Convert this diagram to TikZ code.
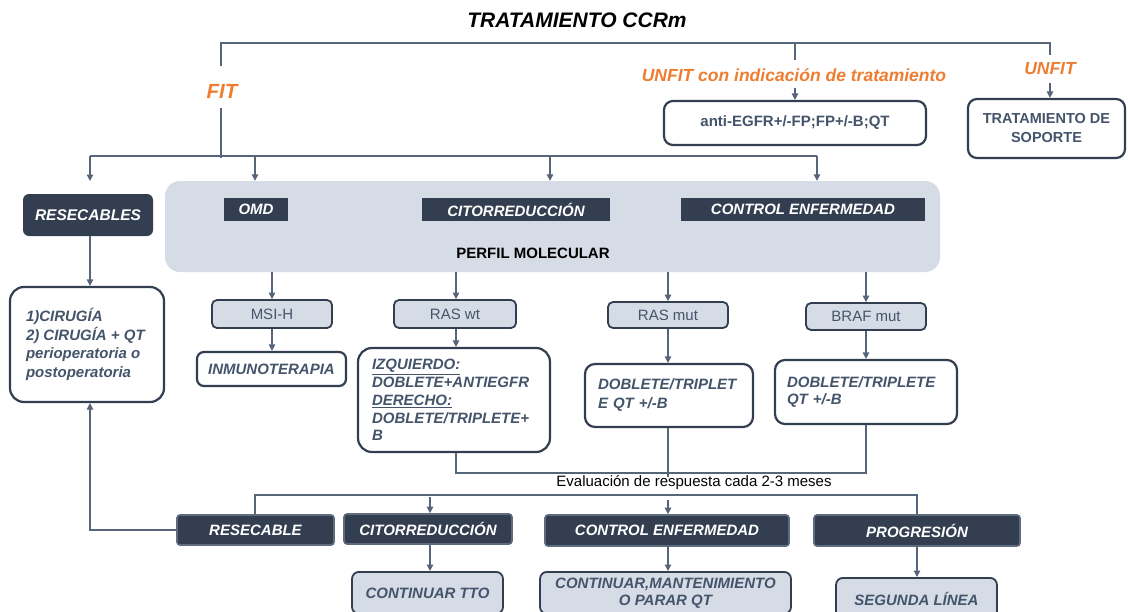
\documentclass[tikz,border=0pt]{standalone}
\usepackage{fontspec}
\setmainfont{Liberation Sans}
\usetikzlibrary{arrows.meta}
\definecolor{darkbox}{HTML}{333F50}
\definecolor{lightfill}{HTML}{D6DCE5}
\definecolor{slate}{HTML}{44546A}
\definecolor{conn}{HTML}{56657A}
\definecolor{orangeT}{HTML}{ED7D31}
\definecolor{dborder}{HTML}{5F6C80}
\tikzset{
  conline/.style={draw=conn, line width=1.2pt},
  arr/.style={conline, -{Triangle[width=6.5pt,length=6.5pt]}},
  whitebox/.style={draw=darkbox, line width=2.2pt, fill=white, rounded corners=9pt, text=slate, font=\fontsize{15}{18}\selectfont\bfseries\itshape, inner sep=0pt},
  darkflat/.style={fill=darkbox, text=white, font=\fontsize{15}{18}\selectfont\bfseries\itshape, inner sep=0pt},
  darkround/.style={fill=darkbox, draw=dborder, line width=1.6pt, rounded corners=3pt, text=white, font=\fontsize{15}{18}\selectfont\bfseries\itshape, inner sep=0pt},
  subbox/.style={draw=darkbox, line width=1.8pt, fill=lightfill, rounded corners=5pt, text=slate, font=\fontsize{15}{18}\selectfont, inner sep=0pt},
  lightbox/.style={draw=darkbox, line width=1.8pt, fill=lightfill, rounded corners=7pt, text=slate, font=\fontsize{15}{17}\selectfont\bfseries\itshape, inner sep=0pt, align=center},
  orangelabel/.style={text=orangeT, inner sep=1pt},
}
\begin{document}
\begin{tikzpicture}[x=1pt,y=-1pt]
\clip (0,0) rectangle (1128,611);
\fill[white] (0,0) rectangle (1128,611);

% column x positions
\coordinate (x90) at (90,0);
\coordinate (x255) at (255,0);
\coordinate (x272) at (272,0);
\coordinate (x430) at (430,0);
\coordinate (x456) at (456,0);
\coordinate (x550) at (550,0);
\coordinate (x668) at (668,0);
\coordinate (x795) at (795,0);
\coordinate (x817) at (817,0);
\coordinate (x866) at (866,0);
\coordinate (x917) at (917,0);
\coordinate (x1050) at (1050,0);

% title and top branches
\node[font=\fontsize{21}{25}\selectfont\bfseries\itshape, text=black] (title) at (577,20) {TRATAMIENTO CCRm};
\node[orangelabel, font=\fontsize{20.5}{24}\selectfont\bfseries\itshape] (fit) at (222,91) {FIT};
\node[orangelabel, font=\fontsize{17.5}{21}\selectfont\bfseries\itshape] (unfitind) at (794,75) {UNFIT con indicación de tratamiento};
\node[orangelabel, font=\fontsize{17.5}{21}\selectfont\bfseries\itshape] (unfit) at (1050,69) {UNFIT};

\coordinate (tl) at (221,43);
\coordinate (tr) at (1050,43);
\draw[conline] (221,66) -- (tl) -- (tr) -- (1050,55);
\draw[conline] (795,43) -- (795,60);

\node[whitebox, minimum width=262pt, minimum height=44pt, font=\fontsize{15}{18}\selectfont\bfseries] (antiegfr) at (795,123) {anti-EGFR+/-FP;FP+/-B;QT};
\node[whitebox, minimum width=157pt, minimum height=59pt, align=center, font=\fontsize{14.5}{19}\selectfont\bfseries] (soporte) at (1046.5,128.5) {TRATAMIENTO DE\\SOPORTE};
\draw[arr] (795,88) -- (x795 |- antiegfr.north);
\draw[arr] (1050,83) -- (x1050 |- soporte.north);

% FIT branch
\coordinate (fitj) at (221,156);
\draw[conline] (221,108) -- (221,158);
\draw[conline] (90,156) -- (817,156);
\coordinate (a1) at (90,181);
\draw[arr] (90,156) -- (a1);

% big molecular profile panel
\node[fill=lightfill, rounded corners=15pt, minimum width=775pt, minimum height=91pt, inner sep=0pt] (panel) at (552.5,226.5) {};
\draw[arr] (255,156) -- (x255 |- panel.north);
\draw[arr] (550,156) -- (x550 |- panel.north);
\draw[arr] (817,156) -- (x817 |- panel.north);

\node[darkflat, minimum width=64pt, minimum height=23pt] (omd) at (256,209.5) {OMD};
\node[darkflat, minimum width=188pt, minimum height=23pt] (citor) at (516,209.5) {CITORREDUCCIÓN};
\node[darkflat, minimum width=244pt, minimum height=23pt] (control) at (803,209.5) {CONTROL ENFERMEDAD};
\node[font=\fontsize{15}{18}\selectfont\bfseries, text=black] (perfil) at (533,253) {PERFIL MOLECULAR};

\node[fill=darkbox, rounded corners=6pt, minimum width=130pt, minimum height=42pt, text=white, font=\fontsize{15.5}{18}\selectfont\bfseries\itshape, inner sep=0pt] (resecables) at (88,215) {RESECABLES};

\node[whitebox, minimum width=154pt, minimum height=115pt, rounded corners=14pt, font=\fontsize{15}{18.7}\selectfont\bfseries\itshape] (cirugia) at (87,344.5) {\hspace*{16pt}\parbox{138pt}{\raggedright 1)CIRUGÍA\\2) CIRUGÍA + QT\\perioperatoria o\\postoperatoria}};
\draw[arr] (x90 |- resecables.south) -- (x90 |- cirugia.north);

% molecular subgroups
\node[subbox, minimum width=120pt, minimum height=28pt] (msi) at (272,314) {MSI-H};
\node[subbox, minimum width=122pt, minimum height=28pt] (raswt) at (455,314) {RAS wt};
\node[subbox, minimum width=120pt, minimum height=26pt] (rasmut) at (668,315) {RAS mut};
\node[subbox, minimum width=120pt, minimum height=27pt] (braf) at (866,316.5) {BRAF mut};

\draw[arr] (x272 |- panel.south) -- (x272 |- msi.north);
\draw[arr] (x456 |- panel.south) -- (x456 |- raswt.north);
\draw[arr] (x668 |- panel.south) -- (x668 |- rasmut.north);
\draw[arr] (x866 |- panel.south) -- (x866 |- braf.north);

% treatments
\node[whitebox, minimum width=149pt, minimum height=34pt, rounded corners=7pt] (inmuno) at (271.5,369) {INMUNOTERAPIA};
\node[whitebox, minimum width=192pt, minimum height=104pt, text width=164pt, align=left, rounded corners=14pt, font=\fontsize{15}{17.8}\selectfont\bfseries\itshape] (rastx) at (454,400) {\underline{IZQUIERDO:}\\DOBLETE+ANTIEGFR\\\underline{DERECHO:}\\DOBLETE/TRIPLETE+\\B};
\node[whitebox, minimum width=168pt, minimum height=63pt, text width=142pt, align=left, rounded corners=10pt, font=\fontsize{15}{19}\selectfont\bfseries\itshape] (rasmuttx) at (669,395.5) {DOBLETE/TRIPLET\\E QT +/-B\\[1pt]};
\node[whitebox, minimum width=182pt, minimum height=64pt, text width=158pt, align=left, rounded corners=10pt, font=\fontsize{15}{17}\selectfont\bfseries\itshape] (braftx) at (866,392) {DOBLETE/TRIPLETE\\QT +/-B\\[3pt]};

\draw[arr] (x272 |- msi.south) -- (x272 |- inmuno.north);
\draw[arr] (x456 |- raswt.south) -- (x456 |- rastx.north);
\draw[arr] (x668 |- rasmut.south) -- (x668 |- rasmuttx.north);
\draw[arr] (x866 |- braf.south) -- (x866 |- braftx.north);

% evaluation
\node[font=\fontsize{15}{18}\selectfont, text=black, inner sep=1pt] (eval) at (694,483) {Evaluación de respuesta cada 2-3 meses};
\draw[conline] (x456 |- rastx.south) -- (456,473) -- (866,473) -- (x866 |- braftx.south);
\draw[conline] (x668 |- rasmuttx.south) -- (668,477);

% bottom row
\node[darkround, minimum width=157pt, minimum height=30pt] (reseca) at (255.5,530) {RESECABLE};
\node[darkround, minimum width=168pt, minimum height=30pt] (citor2) at (428,529) {CITORREDUCCIÓN};
\node[darkround, minimum width=244pt, minimum height=31pt] (control2) at (667,530.5) {CONTROL ENFERMEDAD};
\node[darkround, minimum width=206pt, minimum height=31pt] (progresion) at (917,530.5) {PROGRESIÓN};

\draw[conline] (x255 |- reseca.north) -- (255,495) -- (917,495) -- (x917 |- progresion.north);
\draw[arr] (430,497) -- (x430 |- citor2.north);
\draw[arr] (668,500) -- (x668 |- control2.north);
\draw[arr] (reseca.west) -- (90,530) -- (x90 |- cirugia.south);

\node[lightbox, minimum width=151pt, minimum height=42pt, anchor=north] (contin) at (427.5,571) {CONTINUAR TTO};
\node[lightbox, minimum width=251pt, minimum height=42pt, anchor=north] (mant) at (665.5,571) {CONTINUAR,MANTENIMIENTO\\O PARAR QT};
\node[lightbox, minimum width=161pt, minimum height=42pt, anchor=north] (segunda) at (916.5,577) {SEGUNDA LÍNEA};

\draw[arr] (x430 |- citor2.south) -- (x430 |- contin.north);
\draw[arr] (x668 |- control2.south) -- (x668 |- mant.north);
\draw[arr] (x917 |- progresion.south) -- (x917 |- segunda.north);
\end{tikzpicture}
\end{document}
